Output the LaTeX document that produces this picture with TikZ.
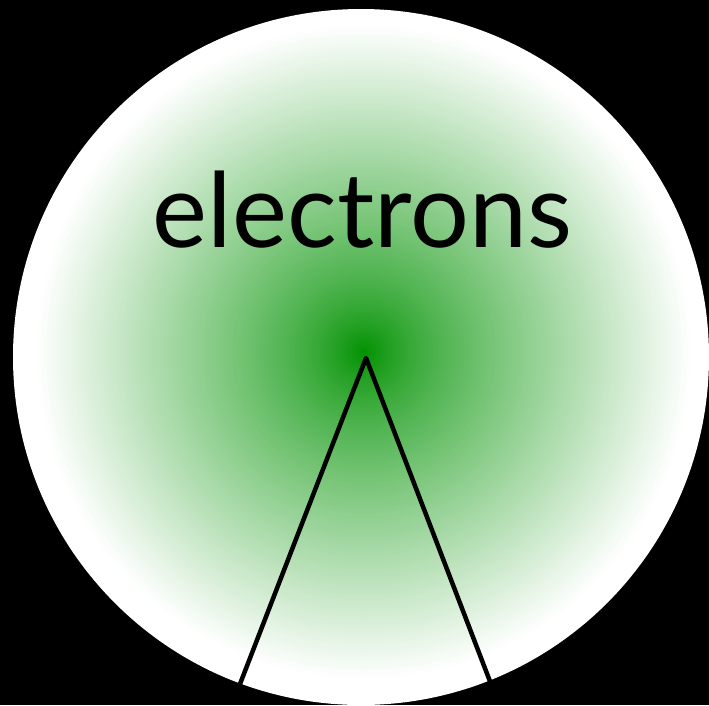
\documentclass[tikz,border=0pt]{standalone}
\usepackage{fontspec}
\setmainfont{Lato}
\definecolor{glowgreen}{RGB}{0,145,0}
\tikzset{
  connector/.style={draw=black, line width=4.5pt, line join=round, line cap=butt},
  label/.style={font=\fontsize{104}{110}\selectfont, text=black, inner sep=0pt, anchor=base}
}
\begin{document}
\begin{tikzpicture}[x=1pt, y=-1pt]
  \useasboundingbox (0,0) rectangle (709,705);
  \fill[black] (0,0) rectangle (709,705);
  \fill[white] (361,357) circle (348);
  \begin{scope}
    \clip (361,357) circle (348);
    \foreach \i in {0,...,164} {
      \pgfmathsetmacro\rr{328-2*\i}
      \pgfmathsetmacro\tt{\rr/328}
      \pgfmathsetmacro\pp{100*(0.88*(1-\tt)+0.12*(1-\tt)^8)}
      \fill[glowgreen!\pp!white] (364,352) circle (\rr);
    }
  \end{scope}
  \coordinate (apex) at (366,358);
  \coordinate (lend) at (240,684);
  \coordinate (rend) at (491,684);
  \draw[connector] (lend) -- (apex) -- (rend);
  \node[label] (txt) at (362.5,247) {electrons};
\end{tikzpicture}
\end{document}
